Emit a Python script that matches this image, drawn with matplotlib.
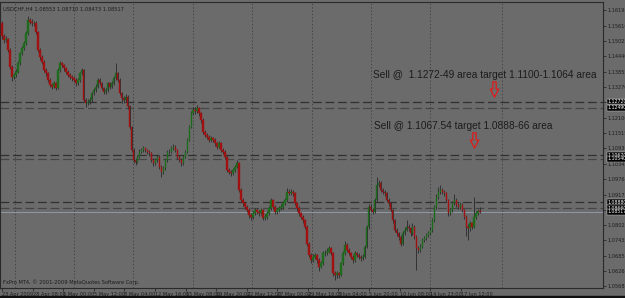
import matplotlib
matplotlib.use("Agg")
import matplotlib.pyplot as plt
from matplotlib.path import Path
import numpy as np

# USDCHF H4 candles (open of a bar = previous close)
first_open = 1.1570
closes = [1.1520, 1.1507, 1.1510, 1.1468, 1.1405, 1.1367, 1.1373, 1.1386, 1.1418, 1.1456,
          1.1475, 1.1494, 1.1532, 1.1583, 1.1576, 1.1570, 1.1572, 1.1538, 1.1468, 1.1443,
          1.1424, 1.1392, 1.1379, 1.1354, 1.1335, 1.1329, 1.1341, 1.1322, 1.1392, 1.1418,
          1.1411, 1.1399, 1.1386, 1.1373, 1.1367, 1.1361, 1.1354, 1.1341, 1.1354, 1.1379,
          1.1392, 1.1278, 1.1265, 1.1272, 1.1278, 1.1303, 1.1316, 1.1329, 1.1354, 1.1341,
          1.1322, 1.1309, 1.1316, 1.1341, 1.1329, 1.1341, 1.1361, 1.1379, 1.1354, 1.1303,
          1.1284, 1.1278, 1.1291, 1.1253, 1.1176, 1.1087, 1.1049, 1.1043, 1.1062, 1.1081,
          1.1087, 1.1094, 1.1087, 1.1081, 1.1075, 1.1049, 1.1037, 1.1049, 1.1062, 1.1024,
          1.1005, 1.1018, 1.1049, 1.1081, 1.1081, 1.1094, 1.1100, 1.1087, 1.1062, 1.1049,
          1.1037, 1.1062, 1.1081, 1.1126, 1.1176, 1.1227, 1.1239, 1.1234, 1.1246, 1.1227,
          1.1202, 1.1157, 1.1145, 1.1138, 1.1126, 1.1132, 1.1126, 1.1113, 1.1100, 1.1113,
          1.1087, 1.1081, 1.1062, 1.1011, 1.1005, 1.0999, 1.1011, 1.1024, 1.1037, 1.0935,
          1.0897, 1.0884, 1.0871, 1.0859, 1.0840, 1.0833, 1.0846, 1.0859, 1.0852, 1.0846,
          1.0859, 1.0827, 1.0833, 1.0846, 1.0865, 1.0897, 1.0871, 1.0852, 1.0859, 1.0865,
          1.0871, 1.0884, 1.0897, 1.0929, 1.0922, 1.0929, 1.0922, 1.0884, 1.0865, 1.0846,
          1.0833, 1.0820, 1.0795, 1.0731, 1.0687, 1.0668, 1.0681, 1.0687, 1.0668, 1.0643,
          1.0656, 1.0694, 1.0694, 1.0700, 1.0713, 1.0694, 1.0618, 1.0611, 1.0618, 1.0611,
          1.0656, 1.0694, 1.0725, 1.0706, 1.0694, 1.0681, 1.0668, 1.0694, 1.0687, 1.0681,
          1.0675, 1.0681, 1.0719, 1.0795, 1.0871, 1.0859, 1.0852, 1.0897, 1.0954, 1.0961,
          1.0935, 1.0929, 1.0922, 1.0897, 1.0884, 1.0859, 1.0820, 1.0783, 1.0770, 1.0757,
          1.0731, 1.0770, 1.0783, 1.0795, 1.0789, 1.0770, 1.0795, 1.0757, 1.0713, 1.0706,
          1.0719, 1.0744, 1.0751, 1.0764, 1.0770, 1.0783, 1.0820, 1.0871, 1.0910, 1.0929,
          1.0935, 1.0929, 1.0922, 1.0897, 1.0846, 1.0859, 1.0884, 1.0897, 1.0878, 1.0871,
          1.0878, 1.0859, 1.0833, 1.0795, 1.0789, 1.0808, 1.0795, 1.0833, 1.0846, 1.0855,
          1.0852]
highs = [1.1578, 1.1528, 1.1522, 1.1515, 1.1474, 1.1410, 1.1382, 1.1394, 1.1425, 1.1462,
         1.1484, 1.1502, 1.1540, 1.1598, 1.1592, 1.1585, 1.1580, 1.1577, 1.1542, 1.1475,
         1.1451, 1.1430, 1.1400, 1.1385, 1.1360, 1.1343, 1.1350, 1.1348, 1.1398, 1.1426,
         1.1424, 1.1416, 1.1404, 1.1392, 1.1380, 1.1374, 1.1368, 1.1360, 1.1362, 1.1386,
         1.1400, 1.1396, 1.1286, 1.1282, 1.1288, 1.1310, 1.1324, 1.1338, 1.1362, 1.1360,
         1.1348, 1.1328, 1.1324, 1.1348, 1.1346, 1.1350, 1.1368, 1.1420, 1.1386, 1.1360,
         1.1310, 1.1292, 1.1300, 1.1296, 1.1258, 1.1180, 1.1094, 1.1058, 1.1070, 1.1090,
         1.1096, 1.1104, 1.1100, 1.1092, 1.1088, 1.1080, 1.1056, 1.1058, 1.1070, 1.1068,
         1.1030, 1.1026, 1.1056, 1.1088, 1.1092, 1.1102, 1.1112, 1.1106, 1.1092, 1.1068,
         1.1056, 1.1070, 1.1088, 1.1132, 1.1182, 1.1234, 1.1252, 1.1250, 1.1258, 1.1252,
         1.1232, 1.1208, 1.1164, 1.1152, 1.1144, 1.1140, 1.1138, 1.1132, 1.1118, 1.1122,
         1.1118, 1.1094, 1.1088, 1.1068, 1.1018, 1.1012, 1.1020, 1.1032, 1.1050, 1.1042,
         1.0942, 1.0904, 1.0890, 1.0878, 1.0866, 1.0848, 1.0854, 1.0868, 1.0866, 1.0860,
         1.0866, 1.0864, 1.0842, 1.0854, 1.0874, 1.0906, 1.0902, 1.0878, 1.0866, 1.0872,
         1.0880, 1.0892, 1.0904, 1.0942, 1.0938, 1.0940, 1.0934, 1.0928, 1.0890, 1.0872,
         1.0852, 1.0840, 1.0826, 1.0800, 1.0736, 1.0694, 1.0690, 1.0696, 1.0692, 1.0674,
         1.0664, 1.0702, 1.0706, 1.0712, 1.0722, 1.0718, 1.0700, 1.0626, 1.0628, 1.0624,
         1.0662, 1.0702, 1.0740, 1.0732, 1.0712, 1.0700, 1.0686, 1.0702, 1.0700, 1.0694,
         1.0688, 1.0690, 1.0726, 1.0802, 1.0880, 1.0882, 1.0866, 1.0906, 1.0985, 1.0974,
         1.0968, 1.0944, 1.0936, 1.0928, 1.0904, 1.0890, 1.0864, 1.0826, 1.0790, 1.0776,
         1.0764, 1.0778, 1.0792, 1.0820, 1.0804, 1.0794, 1.0810, 1.0800, 1.0762, 1.0720,
         1.0728, 1.0752, 1.0760, 1.0772, 1.0780, 1.0792, 1.0828, 1.0878, 1.0918, 1.0948,
         1.0954, 1.0944, 1.0936, 1.0928, 1.0902, 1.0868, 1.0892, 1.0918, 1.0904, 1.0886,
         1.0888, 1.0884, 1.0864, 1.0838, 1.0804, 1.0816, 1.0814, 1.0910, 1.0856, 1.0862,
         1.0871]
lows = [1.1510, 1.1495, 1.1498, 1.1460, 1.1396, 1.1352, 1.1358, 1.1365, 1.1380, 1.1412,
        1.1448, 1.1468, 1.1489, 1.1526, 1.1566, 1.1561, 1.1560, 1.1530, 1.1460, 1.1432,
        1.1415, 1.1384, 1.1370, 1.1345, 1.1326, 1.1318, 1.1322, 1.1314, 1.1318, 1.1386,
        1.1402, 1.1390, 1.1378, 1.1366, 1.1358, 1.1352, 1.1346, 1.1332, 1.1336, 1.1348,
        1.1372, 1.1270, 1.1250, 1.1258, 1.1264, 1.1272, 1.1296, 1.1310, 1.1322, 1.1334,
        1.1314, 1.1300, 1.1302, 1.1310, 1.1320, 1.1322, 1.1334, 1.1355, 1.1346, 1.1296,
        1.1265, 1.1268, 1.1272, 1.1244, 1.1166, 1.1078, 1.1038, 1.1030, 1.1036, 1.1056,
        1.1074, 1.1080, 1.1078, 1.1072, 1.1064, 1.1040, 1.1026, 1.1030, 1.1042, 1.1014,
        1.0985, 1.0996, 1.1012, 1.1042, 1.1072, 1.1074, 1.1088, 1.1078, 1.1054, 1.1040,
        1.1028, 1.1030, 1.1056, 1.1076, 1.1120, 1.1170, 1.1220, 1.1224, 1.1228, 1.1218,
        1.1192, 1.1148, 1.1136, 1.1128, 1.1116, 1.1118, 1.1116, 1.1104, 1.1090, 1.1094,
        1.1078, 1.1072, 1.1054, 1.1002, 1.0994, 1.0988, 1.0992, 1.1004, 1.1018, 1.0926,
        1.0888, 1.0874, 1.0862, 1.0850, 1.0830, 1.0820, 1.0826, 1.0840, 1.0844, 1.0836,
        1.0838, 1.0820, 1.0820, 1.0826, 1.0840, 1.0858, 1.0862, 1.0844, 1.0844, 1.0852,
        1.0858, 1.0864, 1.0878, 1.0890, 1.0914, 1.0914, 1.0912, 1.0876, 1.0856, 1.0836,
        1.0824, 1.0810, 1.0786, 1.0722, 1.0678, 1.0656, 1.0660, 1.0672, 1.0658, 1.0625,
        1.0636, 1.0650, 1.0684, 1.0686, 1.0694, 1.0686, 1.0608, 1.0592, 1.0600, 1.0600,
        1.0606, 1.0650, 1.0688, 1.0698, 1.0686, 1.0672, 1.0658, 1.0662, 1.0678, 1.0672,
        1.0666, 1.0668, 1.0676, 1.0712, 1.0788, 1.0850, 1.0842, 1.0846, 1.0890, 1.0946,
        1.0926, 1.0920, 1.0912, 1.0888, 1.0874, 1.0850, 1.0810, 1.0774, 1.0760, 1.0746,
        1.0722, 1.0726, 1.0764, 1.0778, 1.0780, 1.0760, 1.0764, 1.0748, 1.0629, 1.0694,
        1.0700, 1.0712, 1.0736, 1.0744, 1.0756, 1.0762, 1.0776, 1.0814, 1.0864, 1.0902,
        1.0920, 1.0918, 1.0912, 1.0888, 1.0836, 1.0838, 1.0852, 1.0878, 1.0870, 1.0862,
        1.0864, 1.0850, 1.0824, 1.0760, 1.0745, 1.0780, 1.0786, 1.0790, 1.0826, 1.0838,
        1.0847]

# horizontal levels drawn on the chart
levels = [1.1272, 1.1249, 1.1067, 1.1054, 1.0888, 1.0866]
level_labels = ["1.12720", "1.12490", "1.10670", "1.10540", "1.08880", "1.08660"]
bid = 1.08517

price_labels = ["1.05680", "1.06265", "1.06850", "1.07435", "1.08020", "1.08600", "1.09175",
                "1.09760", "1.10345", "1.10930", "1.11515", "1.12100", "1.12685", "1.13270",
                "1.13855", "1.14440", "1.15025", "1.15610", "1.16195"]
date_labels = ["23 Apr 2009", "28 Apr 08:00", "1 May 00:00", "5 May 12:00", "8 May 04:00",
               "12 May 16:00", "15 May 08:00", "19 May 20:00", "22 May 12:00", "27 May 00:00",
               "29 May 16:00", "3 Jun 04:00", "5 Jun 20:00", "10 Jun 08:00", "14 Jun 23:00",
               "17 Jun 12:00"]

header = "USDCHF,H4 1.08553 1.08710 1.08473 1.08517"
footer = "FxPro MT4, \u00a9 2001-2009 MetaQuotes Software Corp."
note1 = "Sell @  1.1272-49 area target 1.1100-1.1064 area"
note2 = "Sell @ 1.1067.54 target 1.0888-66 area"

BG = "#6b6b6b"
DARK = "#1c1c1c"
SMALL = ["Liberation Sans Narrow", "DejaVu Sans"]

fig = plt.figure(figsize=(6.25, 2.98), dpi=100, facecolor=BG)
ax = fig.add_axes([0, 10 / 298, 603 / 625, 286 / 298])
ax.set_facecolor(BG)

opens = [first_open] + closes[:-1]
x = np.arange(len(closes))
ax.vlines(x, lows, highs, color="#2e2e2e", lw=0.65, zorder=3)
for i in range(len(closes)):
    o, c = opens[i], closes[i]
    col = "#1d6b1d" if c >= o else "#a01212"
    ax.bar(i, c - o, bottom=o, width=0.8, color=col, edgecolor=col, lw=0.3, zorder=4)

# weekly separators (dotted)
for px in [15, 74, 133, 193, 252, 312, 371, 430, 502]:
    ax.axvline((px - 2) / 1.993, color="#3a3a3a", lw=0.6, ls=(0, (1.5, 2.5)), zorder=1)

# dashed levels
for k, lv in enumerate(levels):
    ax.axhline(lv, color="#303030" if k % 2 == 0 else "#454545", lw=0.9,
               ls=(0, (7, 3)), zorder=2)
ax.axhline(bid, color="#8e9aaa", lw=0.7, zorder=2)

ax.set_xlim(-1.0, 301.6)
ax.set_ylim(1.05615, 1.16511)

ax.yaxis.tick_right()
ax.set_yticks([float(s) for s in price_labels])
ax.set_yticklabels(price_labels)
ax.set_xticks([k * 15.35 for k in range(len(date_labels))])
ax.set_xticklabels(date_labels, ha="left")
ax.tick_params(axis="both", labelsize=3.6, colors=DARK, length=2, width=0.5, pad=1)
ax.tick_params(axis="x", pad=1.2)
for lab in ax.get_xticklabels() + ax.get_yticklabels():
    lab.set_family(SMALL)
for s in ax.spines.values():
    s.set_color("#2a2a2a")
    s.set_linewidth(0.8)

ytr = ax.get_yaxis_transform()
for lv, lab in zip(levels + [bid], level_labels + ["1.08517"]):
    ax.text(1.008, lv, lab, transform=ytr, ha="left", va="center", fontsize=3.3,
            family=SMALL, color="white", clip_on=False,
            bbox=dict(boxstyle="square,pad=0.1", fc="black", ec="#cfcfcf", lw=0.3))

ax.text(0.005, 0.985, header, transform=ax.transAxes, fontsize=3.7, color=DARK,
        family=SMALL, ha="left", va="top")
ax.text(0.005, 0.012, footer, transform=ax.transAxes, fontsize=3.7, color=DARK,
        family=SMALL, ha="left", va="bottom")

ax.text(186.2, 1.1373, note1, fontsize=7.3, family="Liberation Sans", color=DARK,
        ha="left", va="center")
ax.text(186.6, 1.1179, note2, fontsize=7.3, family="Liberation Sans", color=DARK,
        ha="left", va="center")

# hollow down arrows
arrow = Path([(-0.22, 1.0), (0.22, 1.0), (0.22, 0.05), (0.55, 0.05), (0.0, -1.0),
              (-0.55, 0.05), (-0.22, 0.05), (-0.22, 1.0)], closed=True)
ax.plot([246.9, 236.8], [1.1320, 1.1125], ls="none", marker=arrow, markersize=11,
        markerfacecolor="none", markeredgecolor="#e01a1a", markeredgewidth=0.9, zorder=5)

fig.patches.append(plt.Rectangle((0, 0), 1, 2 / 298, transform=fig.transFigure,
                                 color="#111111", zorder=10))

fig.savefig("out.png", dpi=100, facecolor=BG)
